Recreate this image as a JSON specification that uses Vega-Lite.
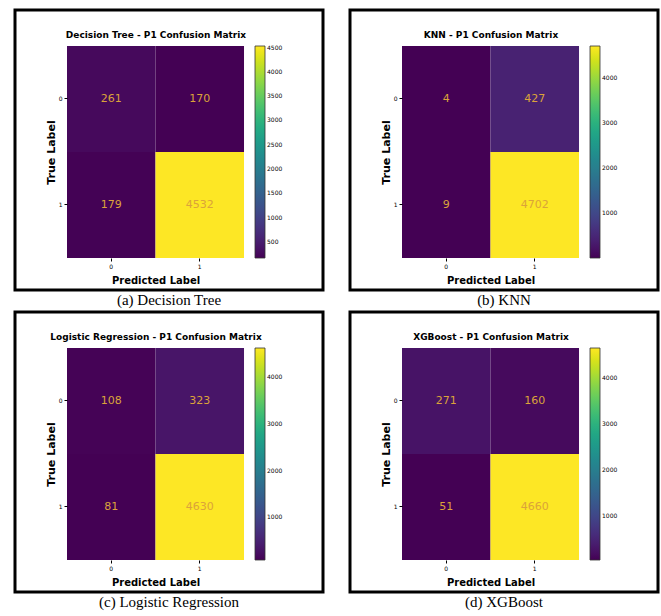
{
  "$schema": "https://vega.github.io/schema/vega-lite/v6.json",
  "background": "white",
  "padding": {"left": 13, "top": 8, "right": 0, "bottom": 0},
  "datasets": {
    "dt": [
      {"pred": "0", "actual": "0", "count": 261},
      {"pred": "1", "actual": "0", "count": 170},
      {"pred": "0", "actual": "1", "count": 179},
      {"pred": "1", "actual": "1", "count": 4532}
    ],
    "knn": [
      {"pred": "0", "actual": "0", "count": 4},
      {"pred": "1", "actual": "0", "count": 427},
      {"pred": "0", "actual": "1", "count": 9},
      {"pred": "1", "actual": "1", "count": 4702}
    ],
    "lr": [
      {"pred": "0", "actual": "0", "count": 108},
      {"pred": "1", "actual": "0", "count": 323},
      {"pred": "0", "actual": "1", "count": 81},
      {"pred": "1", "actual": "1", "count": 4630}
    ],
    "xgb": [
      {"pred": "0", "actual": "0", "count": 271},
      {"pred": "1", "actual": "0", "count": 160},
      {"pred": "0", "actual": "1", "count": 51},
      {"pred": "1", "actual": "1", "count": 4660}
    ]
  },
  "vconcat": [
    {
      "hconcat": [
        {
          "data": {"name": "dt"},
          "width": 308, "height": 280,
          "title": {"text": "(a) Decision Tree"},
          "layer": [
            {
              "mark": {"type": "rect"},
              "encoding": {
                "x": {"field": "pred", "type": "nominal", "sort": ["0", "1"], "scale": {"paddingInner": 0, "paddingOuter": 0.74, "align": 0.397}, "axis": {"orient": "bottom", "offset": -32, "title": "Predicted Label", "titleX": 140.5, "titleY": 22, "titleBaseline": "middle", "titleFontSize": 10}},
                "y": {"field": "actual", "type": "nominal", "sort": ["0", "1"], "scale": {"paddingInner": 0, "paddingOuter": 0.321, "align": 0.529}, "axis": {"offset": -52, "title": "True Label", "titleX": -16, "titleY": 142, "titleBaseline": "middle"}},
                "color": {"field": "count", "type": "quantitative", "scale": {"scheme": "viridis", "zero": false, "nice": false}, "legend": {"orient": "none", "legendX": 240, "legendY": 36, "format": "d", "values": [500, 1000, 1500, 2000, 2500, 3000, 3500, 4000, 4500]}}
              }
            },
            {
              "mark": {"type": "text", "color": "#dba33a", "fontSize": 11},
              "encoding": {
                "x": {"field": "pred", "type": "nominal", "sort": ["0", "1"], "axis": {"orient": "top", "offset": -36, "title": "Decision Tree - P1 Confusion Matrix", "titleX": 140.5, "titleY": -12, "titleBaseline": "middle", "labels": false, "ticks": false, "domain": false, "titleFontSize": 9}},
                "y": {"field": "actual", "type": "nominal", "sort": ["0", "1"], "title": "True Label"},
                "text": {"field": "count", "type": "quantitative"}
              }
            }
          ],
          "resolve": {"axis": {"x": "independent"}}
        },
        {
          "data": {"name": "knn"},
          "width": 308, "height": 280,
          "title": {"text": "(b) KNN"},
          "layer": [
            {
              "mark": {"type": "rect"},
              "encoding": {
                "x": {"field": "pred", "type": "nominal", "sort": ["0", "1"], "scale": {"paddingInner": 0, "paddingOuter": 0.74, "align": 0.397}, "axis": {"orient": "bottom", "offset": -32, "title": "Predicted Label", "titleX": 140.5, "titleY": 22, "titleBaseline": "middle", "titleFontSize": 10}},
                "y": {"field": "actual", "type": "nominal", "sort": ["0", "1"], "scale": {"paddingInner": 0, "paddingOuter": 0.321, "align": 0.529}, "axis": {"offset": -52, "title": "True Label", "titleX": -16, "titleY": 142, "titleBaseline": "middle"}},
                "color": {"field": "count", "type": "quantitative", "scale": {"scheme": "viridis", "zero": false, "nice": false}, "legend": {"orient": "none", "legendX": 240, "legendY": 36, "format": "d", "values": [1000, 2000, 3000, 4000]}}
              }
            },
            {
              "mark": {"type": "text", "color": "#dba33a", "fontSize": 11},
              "encoding": {
                "x": {"field": "pred", "type": "nominal", "sort": ["0", "1"], "axis": {"orient": "top", "offset": -36, "title": "KNN - P1 Confusion Matrix", "titleX": 140.5, "titleY": -12, "titleBaseline": "middle", "labels": false, "ticks": false, "domain": false, "titleFontSize": 9}},
                "y": {"field": "actual", "type": "nominal", "sort": ["0", "1"], "title": "True Label"},
                "text": {"field": "count", "type": "quantitative"}
              }
            }
          ],
          "resolve": {"axis": {"x": "independent"}}
        }
      ],
      "spacing": 23,
      "resolve": {"scale": {"color": "independent"}, "legend": {"color": "independent"}}
    },
    {
      "hconcat": [
        {
          "data": {"name": "lr"},
          "width": 308, "height": 280,
          "title": {"text": "(c) Logistic Regression"},
          "layer": [
            {
              "mark": {"type": "rect"},
              "encoding": {
                "x": {"field": "pred", "type": "nominal", "sort": ["0", "1"], "scale": {"paddingInner": 0, "paddingOuter": 0.74, "align": 0.397}, "axis": {"orient": "bottom", "offset": -32, "title": "Predicted Label", "titleX": 140.5, "titleY": 22, "titleBaseline": "middle", "titleFontSize": 10}},
                "y": {"field": "actual", "type": "nominal", "sort": ["0", "1"], "scale": {"paddingInner": 0, "paddingOuter": 0.321, "align": 0.529}, "axis": {"offset": -52, "title": "True Label", "titleX": -16, "titleY": 142, "titleBaseline": "middle"}},
                "color": {"field": "count", "type": "quantitative", "scale": {"scheme": "viridis", "zero": false, "nice": false}, "legend": {"orient": "none", "legendX": 240, "legendY": 36, "format": "d", "values": [1000, 2000, 3000, 4000]}}
              }
            },
            {
              "mark": {"type": "text", "color": "#dba33a", "fontSize": 11},
              "encoding": {
                "x": {"field": "pred", "type": "nominal", "sort": ["0", "1"], "axis": {"orient": "top", "offset": -36, "title": "Logistic Regression - P1 Confusion Matrix", "titleX": 140.5, "titleY": -12, "titleBaseline": "middle", "labels": false, "ticks": false, "domain": false, "titleFontSize": 9}},
                "y": {"field": "actual", "type": "nominal", "sort": ["0", "1"], "title": "True Label"},
                "text": {"field": "count", "type": "quantitative"}
              }
            }
          ],
          "resolve": {"axis": {"x": "independent"}}
        },
        {
          "data": {"name": "xgb"},
          "width": 308, "height": 280,
          "title": {"text": "(d) XGBoost"},
          "layer": [
            {
              "mark": {"type": "rect"},
              "encoding": {
                "x": {"field": "pred", "type": "nominal", "sort": ["0", "1"], "scale": {"paddingInner": 0, "paddingOuter": 0.74, "align": 0.397}, "axis": {"orient": "bottom", "offset": -32, "title": "Predicted Label", "titleX": 140.5, "titleY": 22, "titleBaseline": "middle", "titleFontSize": 10}},
                "y": {"field": "actual", "type": "nominal", "sort": ["0", "1"], "scale": {"paddingInner": 0, "paddingOuter": 0.321, "align": 0.529}, "axis": {"offset": -52, "title": "True Label", "titleX": -16, "titleY": 142, "titleBaseline": "middle"}},
                "color": {"field": "count", "type": "quantitative", "scale": {"scheme": "viridis", "zero": false, "nice": false}, "legend": {"orient": "none", "legendX": 240, "legendY": 36, "format": "d", "values": [1000, 2000, 3000, 4000]}}
              }
            },
            {
              "mark": {"type": "text", "color": "#dba33a", "fontSize": 11},
              "encoding": {
                "x": {"field": "pred", "type": "nominal", "sort": ["0", "1"], "axis": {"orient": "top", "offset": -36, "title": "XGBoost - P1 Confusion Matrix", "titleX": 140.5, "titleY": -12, "titleBaseline": "middle", "labels": false, "ticks": false, "domain": false, "titleFontSize": 9}},
                "y": {"field": "actual", "type": "nominal", "sort": ["0", "1"], "title": "True Label"},
                "text": {"field": "count", "type": "quantitative"}
              }
            }
          ],
          "resolve": {"axis": {"x": "independent"}}
        }
      ],
      "spacing": 23,
      "resolve": {"scale": {"color": "independent"}, "legend": {"color": "independent"}}
    }
  ],
  "spacing": 0,
  "resolve": {"scale": {"color": "independent"}, "legend": {"color": "independent"}},
  "config": {
    "font": "DejaVu Sans",
    "view": {"stroke": "black", "strokeWidth": 3, "fill": "white"},
    "title": {"font": "Liberation Serif", "fontSize": 15, "fontWeight": "normal", "color": "black", "orient": "bottom", "anchor": "middle", "offset": 3},
    "axis": {"labelFont": "DejaVu Sans", "titleFont": "DejaVu Sans", "labelColor": "black", "titleColor": "black", "tickColor": "black", "domain": false, "grid": false, "tickSize": 3, "labelFontSize": 6, "labelPadding": 2, "labelAngle": 0, "titleFontSize": 11, "titleFontWeight": "bold"},
    "legend": {"title": null, "direction": "vertical", "gradientLength": 212, "gradientThickness": 10, "labelFontSize": 6, "labelColor": "black", "labelFont": "DejaVu Sans", "labelOffset": 4, "gradientStrokeColor": "#333333", "gradientStrokeWidth": 0.8}
  }
}
